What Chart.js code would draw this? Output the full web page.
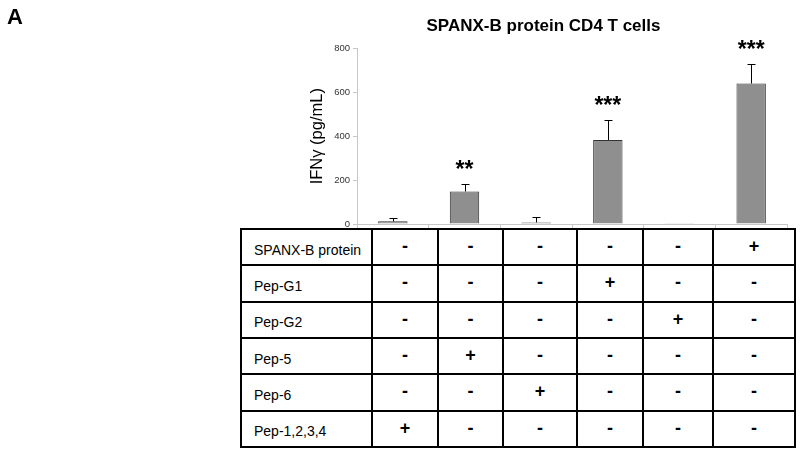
<!DOCTYPE html>
<html>
<head>
<meta charset="utf-8">
<script src="https://cdn.jsdelivr.net/npm/chart.js@4"></script>
<style>
  body { margin: 0; background: #fff; font-family: "Liberation Sans", Arial, sans-serif; }
  #wrap { position: relative; width: 800px; height: 453px; }
  #panel { position: absolute; left: 7px; top: 4px; font-size: 22px; font-weight: bold; }
  #grid {
    position: absolute; left: 240px; top: 228px; width: 554px; height: 220px;
    border-collapse: collapse; table-layout: fixed; background: #fff;
  }
  #grid td { border: 2px solid #000; padding: 0; }
  #grid td.lab { font-size: 14px; padding: 5px 0 0 12px; }
  #grid td.sign { text-align: center; font-size: 18px; font-weight: bold; padding-bottom: 1px; }
</style>
</head>
<body>
<div id="wrap">
  <canvas id="chart" width="800" height="453"></canvas>
  <div id="panel">A</div>
  <table id="grid">
    <colgroup>
      <col style="width:131px"><col style="width:66px"><col style="width:65px"><col style="width:74px">
      <col style="width:66px"><col style="width:70px"><col style="width:82px">
    </colgroup>
    <tbody id="rows"></tbody>
  </table>
</div>
<script>
const categories = ['Pep-1,2,3,4', 'Pep-5', 'Pep-6', 'Pep-G1', 'Pep-G2', 'SPANX-B protein'];
const ifng = [12, 148, 7, 383, 3, 640];
const ifngErr = [15, 34, 23, 93, 0, 90];
const stars = ['', '**', '', '***', '', '***'];

const rowLabels = ['SPANX-B protein', 'Pep-G1', 'Pep-G2', 'Pep-5', 'Pep-6', 'Pep-1,2,3,4'];
const rowSigns = [
  ['-', '-', '-', '-', '-', '+'],
  ['-', '-', '-', '+', '-', '-'],
  ['-', '-', '-', '-', '+', '-'],
  ['-', '+', '-', '-', '-', '-'],
  ['-', '-', '+', '-', '-', '-'],
  ['+', '-', '-', '-', '-', '-']
];
const yTicks = [0, 200, 400, 600, 800];

// condition table under the bars
const rows = document.getElementById('rows');
rowLabels.forEach((label, i) => {
  const tr = document.createElement('tr');
  let html = `<td class="lab">${label}</td>`;
  rowSigns[i].forEach(s => { html += `<td class="sign">${s}</td>`; });
  tr.innerHTML = html;
  rows.appendChild(tr);
});

const errorBars = {
  id: 'errorBars',
  afterDatasetsDraw(chart) {
    const ctx = chart.ctx;
    const y = chart.scales.y;
    const meta = chart.getDatasetMeta(0);
    ctx.save();
    ctx.strokeStyle = '#000';
    ctx.lineWidth = 1;
    meta.data.forEach((bar, i) => {
      const top = y.getPixelForValue(ifng[i]);
      const end = y.getPixelForValue(ifng[i] + ifngErr[i]);
      if (ifngErr[i] > 0) {
        const x = Math.round(bar.x) + 0.5;
        ctx.beginPath();
        ctx.moveTo(x, top);
        ctx.lineTo(x, Math.round(end) + 0.5);
        ctx.moveTo(x - 4, Math.round(end) + 0.5);
        ctx.lineTo(x + 4, Math.round(end) + 0.5);
        ctx.stroke();
      }
      if (stars[i]) {
        ctx.fillStyle = '#000';
        ctx.font = 'bold 23px "Liberation Sans", Arial, sans-serif';
        ctx.textAlign = 'center';
        ctx.textBaseline = 'alphabetic';
        ctx.fillText(stars[i], bar.x, end - 7);
      }
    });
    ctx.restore();
  }
};

new Chart(document.getElementById('chart'), {
  type: 'bar',
  data: {
    labels: categories,
    datasets: [{
      data: ifng,
      backgroundColor: '#8f8f8f',
      borderColor: '#333',
      borderWidth: 1,
      barPercentage: 0.5,
      categoryPercentage: 0.82
    }]
  },
  options: {
    responsive: false,
    animation: false,
    layout: { padding: { left: 300, right: 13, top: 0, bottom: 229 } },
    plugins: {
      legend: { display: false },
      tooltip: { enabled: false },
      title: {
        display: true,
        text: 'SPANX-B protein CD4 T cells',
        color: '#000',
        font: { family: '"Liberation Sans", Arial, sans-serif', size: 17, weight: 'bold' },
        padding: { top: 16, bottom: 12 }
      }
    },
    scales: {
      x: {
        ticks: { display: false },
        grid: { drawOnChartArea: false, color: '#c8c8c8', tickLength: 4 },
        border: { color: '#c8c8c8' },
        afterFit(scale) { scale.height = 0; }
      },
      y: {
        min: 0,
        max: 800,
        afterBuildTicks(scale) { scale.ticks = yTicks.map(v => ({ value: v })); },
        ticks: {
          color: '#333',
          padding: 3,
          font: { family: '"Liberation Sans", Arial, sans-serif', size: 9.5 }
        },
        grid: { drawOnChartArea: false, color: '#c8c8c8', tickLength: 4 },
        border: { color: '#c8c8c8' },
        title: {
          display: true,
          text: 'IFNγ (pg/mL)',
          color: '#000',
          font: { family: '"Liberation Sans", Arial, sans-serif', size: 16.5 },
          padding: { top: 8, bottom: 0 }
        },
        afterFit(scale) { scale.width = 57; }
      }
    }
  },
  plugins: [errorBars]
});
</script>
</body>
</html>
